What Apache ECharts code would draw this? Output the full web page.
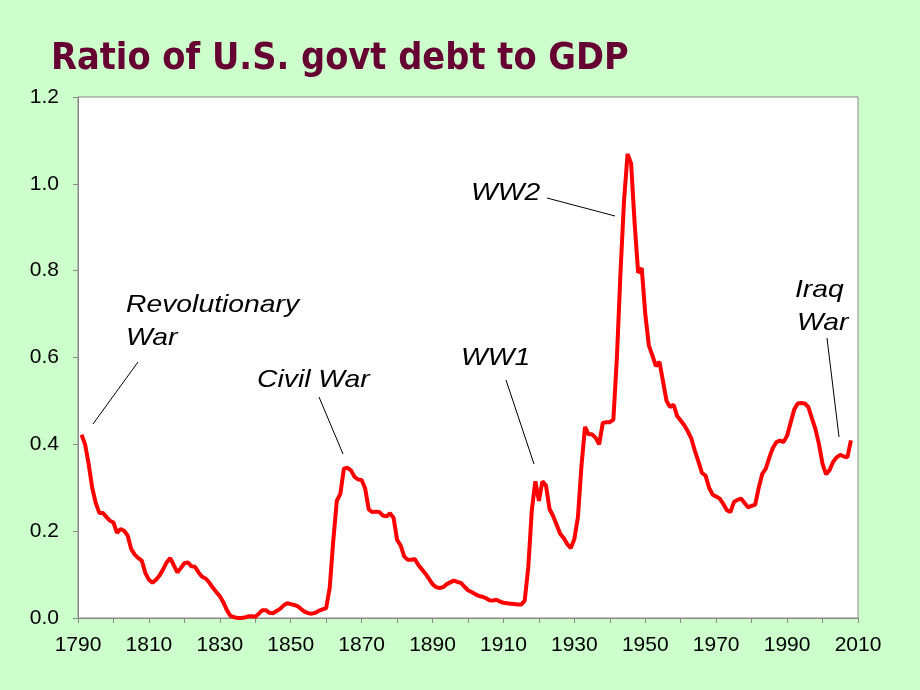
<!DOCTYPE html>
<html><head><meta charset="utf-8">
<script src="https://cdn.jsdelivr.net/npm/echarts@6/dist/echarts.min.js"></script>
<style>html,body{margin:0;padding:0;background:#CCFFCC;}#c{width:920px;height:690px;}</style>
</head><body><div id="c"></div>
<script>
const years = [1791,1792,1793,1794,1795,1796,1797,1798,1799,1800,1801,1802,1803,1804,1805,1806,1807,1808,1809,1810,
1811,1812,1813,1814,1815,1816,1817,1818,1819,1820,1821,1822,1823,1824,1825,1826,1827,1828,1829,1830,
1831,1832,1833,1834,1835,1836,1837,1838,1839,1840,1841,1842,1843,1844,1845,1846,1847,1848,1849,1850,
1851,1852,1853,1854,1855,1856,1857,1858,1859,1860,1861,1862,1863,1864,1865,1866,1867,1868,1869,1870,
1871,1872,1873,1874,1875,1876,1877,1878,1879,1880,1881,1882,1883,1884,1885,1886,1887,1888,1889,1890,
1891,1892,1893,1894,1895,1896,1897,1898,1899,1900,1901,1902,1903,1904,1905,1906,1907,1908,1909,1910,
1911,1912,1913,1914,1915,1916,1917,1918,1919,1920,1921,1922,1923,1924,1925,1926,1927,1928,1929,1930,
1931,1932,1933,1934,1935,1936,1937,1938,1939,1940,1941,1942,1943,1944,1945,1946,1947,1948,1949,1950,
1951,1952,1953,1954,1955,1956,1957,1958,1959,1960,1961,1962,1963,1964,1965,1966,1967,1968,1969,1970,
1971,1972,1973,1974,1975,1976,1977,1978,1979,1980,1981,1982,1983,1984,1985,1986,1987,1988,1989,1990,
1991,1992,1993,1994,1995,1996,1997,1998,1999,2000,2001,2002,2003,2004,2005,2006,2007,2008];
const debtRatio = [0.422,0.400,0.355,0.300,0.265,0.242,0.242,0.233,0.224,0.220,0.196,0.205,0.201,0.190,0.159,0.146,0.138,0.132,0.104,0.088,
0.081,0.088,0.098,0.112,0.128,0.138,0.122,0.105,0.115,0.126,0.128,0.119,0.118,0.105,0.095,0.091,0.082,0.070,0.060,0.050,
0.036,0.018,0.005,0.002,0.000,0.000,0.001,0.004,0.004,0.003,0.010,0.018,0.018,0.012,0.011,0.016,0.021,0.029,0.034,0.032,
0.030,0.027,0.020,0.014,0.011,0.010,0.012,0.017,0.020,0.023,0.070,0.178,0.270,0.286,0.344,0.346,0.340,0.325,0.319,0.318,
0.298,0.250,0.244,0.245,0.244,0.236,0.234,0.241,0.231,0.180,0.167,0.142,0.134,0.134,0.136,0.122,0.112,0.102,0.090,0.078,
0.071,0.069,0.071,0.078,0.082,0.086,0.083,0.081,0.072,0.064,0.060,0.055,0.051,0.049,0.046,0.041,0.040,0.042,0.038,0.035,
0.034,0.033,0.032,0.031,0.031,0.040,0.117,0.248,0.315,0.270,0.315,0.305,0.251,0.235,0.215,0.194,0.184,0.170,0.161,0.182,
0.232,0.350,0.440,0.423,0.423,0.415,0.400,0.449,0.451,0.451,0.457,0.600,0.794,0.960,1.069,1.047,0.909,0.795,0.806,0.700,
0.628,0.605,0.580,0.590,0.545,0.500,0.486,0.491,0.465,0.455,0.444,0.430,0.413,0.385,0.360,0.334,0.328,0.300,0.284,0.280,
0.275,0.263,0.248,0.244,0.267,0.272,0.275,0.265,0.255,0.258,0.261,0.300,0.332,0.344,0.370,0.392,0.405,0.409,0.405,0.420,
0.450,0.480,0.494,0.495,0.494,0.486,0.460,0.435,0.400,0.355,0.331,0.341,0.360,0.370,0.376,0.372,0.370,0.409];

const chart = echarts.init(document.getElementById('c'), null, {renderer:'canvas'});
const annFont = 'italic 24px "Liberation Sans", Arial, sans-serif';
const ann = (x,y,t,align) => ({type:'text', x:x, y:y, scaleX:1.18, scaleY:1,
  style:{text:t, font:annFont, fill:'#000', textAlign:align||'left', textVerticalAlign:'top', lineHeight:33}});
const seg = (x1,y1,x2,y2) => ({type:'line', shape:{x1:x1,y1:y1,x2:x2,y2:y2}, style:{stroke:'#000', lineWidth:1}});
chart.setOption({
  backgroundColor:'#CCFFCC',
  animation:false,
  title:{text:'Ratio of U.S. govt debt to GDP', left:46, top:35,
    textStyle:{fontFamily:'"DejaVu Sans Condensed","DejaVu Sans",sans-serif', fontWeight:'bold', fontSize:37.5, color:'#660033'}},
  grid:{left:78, right:62, top:97, bottom:72, show:true, backgroundColor:'#fff', borderColor:'#888', borderWidth:1},
  xAxis:{type:'value', min:1790, max:2010, interval:10,
    axisLine:{lineStyle:{color:'#888'}}, axisTick:{show:true, length:5, lineStyle:{color:'#888'}},
    splitLine:{show:false},
    axisLabel:{color:'#000', fontSize:21, fontFamily:'"Liberation Sans",Arial,sans-serif', margin:17,
      formatter:v => ((v-1790)%20===0 ? String(v) : '')}},
  yAxis:{type:'value', min:0, max:1.2, interval:0.2,
    axisLine:{show:true, lineStyle:{color:'#888'}}, axisTick:{show:true, length:5, lineStyle:{color:'#888'}},
    splitLine:{show:false},
    axisLabel:{color:'#000', fontSize:21, fontFamily:'"Liberation Sans",Arial,sans-serif', margin:19,
      formatter:v => v.toFixed(1)}},
  series:[{type:'line', data:years.map((y,i)=>[y,debtRatio[i]]), symbol:'none', smooth:false,
    lineStyle:{color:'#FF0000', width:4}, z:3}],
  graphic:[
    ann(126,289,'Revolutionary\nWar'),
    seg(93,424,138,362),
    ann(257,364,'Civil War'),
    seg(319,397,343,454),
    ann(461,342,'WW1'),
    seg(506,380,534,464),
    ann(471,177,'WW2'),
    seg(547,198,615,216),
    ann(795,274,'Iraq'),
    ann(797,307,'War'),
    seg(827,338,839,437)
  ]
});
</script></body></html>
